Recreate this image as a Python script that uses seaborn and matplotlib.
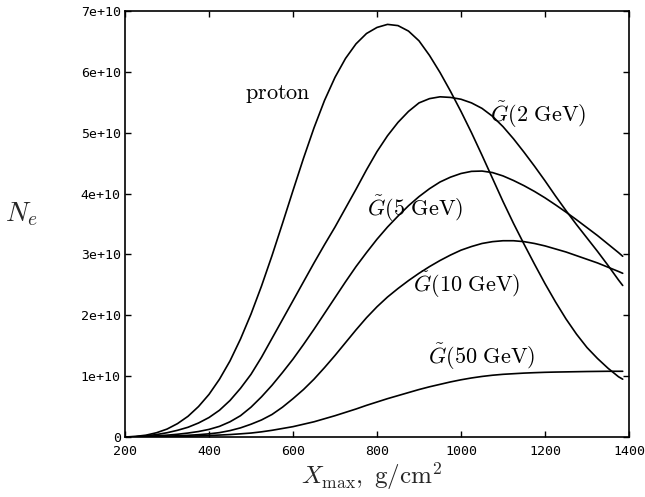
import numpy as np
import pandas as pd
import matplotlib
matplotlib.use("Agg")
import matplotlib.pyplot as plt
import seaborn as sns

# Shower depth grid, g/cm^2
xmax = [200, 225, 250, 275, 300, 325, 350, 375, 400, 425, 450, 475, 500, 525, 550, 575,
        600, 625, 650, 675, 700, 725, 750, 775, 800, 825, 850, 875, 900, 925, 950, 975,
        1000, 1025, 1050, 1075, 1100, 1125, 1150, 1175, 1200, 1225, 1250, 1275, 1300,
        1325, 1350, 1375, 1385]

# Number of electrons, in units of 1e10
ne_proton = [0.0, 0.01, 0.03, 0.07, 0.13, 0.22, 0.34, 0.50, 0.70, 0.95, 1.25, 1.61, 2.02,
             2.48, 2.98, 3.51, 4.05, 4.58, 5.08, 5.53, 5.91, 6.22, 6.46, 6.63, 6.73, 6.78,
             6.76, 6.67, 6.51, 6.27, 5.99, 5.68, 5.35, 5.00, 4.63, 4.25, 3.87, 3.51, 3.17,
             2.84, 2.52, 2.22, 1.94, 1.69, 1.47, 1.29, 1.13, 0.99, 0.95]
ne_g2 = [0.0, 0.005, 0.02, 0.04, 0.07, 0.11, 0.16, 0.23, 0.32, 0.44, 0.60, 0.80, 1.03,
         1.31, 1.62, 1.93, 2.24, 2.55, 2.86, 3.16, 3.45, 3.76, 4.07, 4.39, 4.69, 4.95,
         5.17, 5.35, 5.49, 5.56, 5.59, 5.58, 5.55, 5.49, 5.40, 5.27, 5.10, 4.90, 4.68,
         4.45, 4.21, 3.96, 3.72, 3.49, 3.27, 3.05, 2.82, 2.58, 2.49]
ne_g5 = [0.0, 0.003, 0.01, 0.02, 0.03, 0.045, 0.065, 0.09, 0.125, 0.175, 0.25, 0.35, 0.49,
         0.66, 0.85, 1.06, 1.28, 1.52, 1.77, 2.03, 2.29, 2.55, 2.80, 3.03, 3.25, 3.45,
         3.63, 3.80, 3.95, 4.08, 4.19, 4.27, 4.33, 4.365, 4.37, 4.345, 4.29, 4.215, 4.13,
         4.035, 3.93, 3.815, 3.695, 3.57, 3.44, 3.31, 3.17, 3.03, 2.97]
ne_g10 = [0.0, 0.002, 0.005, 0.009, 0.014, 0.02, 0.028, 0.038, 0.052, 0.072, 0.105, 0.15,
          0.21, 0.28, 0.37, 0.49, 0.63, 0.78, 0.95, 1.14, 1.34, 1.55, 1.76, 1.96, 2.14,
          2.30, 2.44, 2.57, 2.69, 2.80, 2.90, 2.99, 3.07, 3.13, 3.18, 3.21, 3.225, 3.225,
          3.21, 3.18, 3.14, 3.09, 3.04, 2.98, 2.92, 2.86, 2.79, 2.72, 2.69]
ne_g50 = [0.0, 0.001, 0.002, 0.004, 0.006, 0.009, 0.013, 0.018, 0.025, 0.032, 0.04, 0.052,
          0.065, 0.085, 0.11, 0.14, 0.17, 0.21, 0.25, 0.30, 0.35, 0.405, 0.46, 0.52, 0.575,
          0.63, 0.68, 0.73, 0.78, 0.825, 0.865, 0.905, 0.94, 0.97, 0.995, 1.015, 1.03,
          1.04, 1.05, 1.057, 1.063, 1.067, 1.07, 1.073, 1.076, 1.078, 1.08, 1.08, 1.08]

series_labels = ["proton", r"$\tilde{G}(2\ \mathrm{GeV})$", r"$\tilde{G}(5\ \mathrm{GeV})$",
                 r"$\tilde{G}(10\ \mathrm{GeV})$", r"$\tilde{G}(50\ \mathrm{GeV})$"]
series_values = [ne_proton, ne_g2, ne_g5, ne_g10, ne_g50]
# label anchor (left edge, vertical centre) in data units (x, Ne/1e10)
label_pos = [(486, 5.64), (1069, 5.30), (776, 3.75), (886, 2.50), (921, 1.32)]

x_ticks = [200, 400, 600, 800, 1000, 1200, 1400]
y_ticks = [0, 1e10, 2e10, 3e10, 4e10, 5e10, 6e10, 7e10]
y_tick_labels = ["0", "1e+10", "2e+10", "3e+10", "4e+10", "5e+10", "6e+10", "7e+10"]

sns.set_style("ticks")
plt.rcParams["mathtext.fontset"] = "cm"
plt.rcParams["font.family"] = ["DejaVu Sans Mono", "DejaVu Sans"]

rows = []
for name, vals in zip(series_labels, series_values):
    for xv, yv in zip(xmax, vals):
        rows.append({"xmax": xv, "ne": yv * 1e10, "series": name})
df = pd.DataFrame(rows)

fig = plt.figure(figsize=(6.45, 4.97), dpi=100)
ax = fig.add_axes([125 / 645, 60 / 497, 504 / 645, 426 / 497])

sns.lineplot(data=df, x="xmax", y="ne", units="series", estimator=None,
             color="black", linewidth=1.2, sort=False, ax=ax, legend=False)

ax.set_xlim(200, 1400)
ax.set_ylim(0, 7e10)
ax.set_xticks(x_ticks)
ax.set_xticklabels([str(t) for t in x_ticks])
ax.set_yticks(y_ticks)
ax.set_yticklabels(y_tick_labels)
ax.tick_params(direction="in", length=4, width=1, top=True, right=True,
               labelsize=9.5, colors="black")
ax.tick_params(axis="x", pad=5.5)
ax.tick_params(axis="y", pad=3)
for sp in ax.spines.values():
    sp.set_linewidth(1.2)
    sp.set_color("black")

for name, (lx, ly) in zip(series_labels, label_pos):
    txt = name if name.startswith("$") else r"$\mathrm{" + name + "}$"
    ax.text(lx, ly * 1e10, txt, ha="left", va="center", fontsize=16, color="black")

ax.set_xlabel(r"$X_{\mathrm{max}},\ \mathrm{g/cm^2}$", fontsize=18)
ax.xaxis.set_label_coords(0.49, -0.055)
ax.set_ylabel(r"$N_e$", fontsize=20, rotation=0)
ax.yaxis.set_label_coords(-0.205, 0.49)

fig.savefig("out.png", dpi=100)
